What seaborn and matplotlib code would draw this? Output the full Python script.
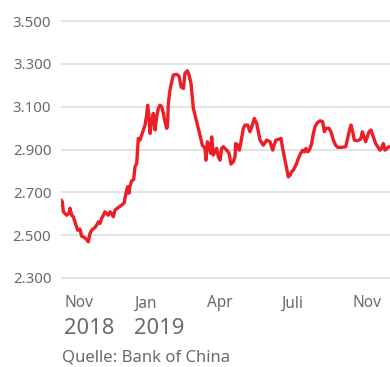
import matplotlib
matplotlib.use("Agg")
import matplotlib.pyplot as plt
import matplotlib.transforms as mtransforms
from matplotlib.ticker import FuncFormatter
import pandas as pd
import seaborn as sns

# ---- data ----
# time index in days from start of series (late Oct 2018)
days = [0, 1.6, 2.8, 6.8, 9.6, 10.8, 12.8, 14.8, 16.8, 20, 22.8, 24.8, 28, 30.8, 32.8,
        34.8, 36.8, 40.8, 42.8, 44.8, 46.8, 48.8, 50.8, 52.8, 54.8, 56.8, 58.8, 60.8,
        62.8, 64.8, 68.8, 72.8, 76, 76.8, 78.8, 80, 81.6, 82.8, 84.8, 87.2, 88.8, 90.8,
        92.8, 94.8, 96.8, 98.8, 100.8, 102.8, 104, 105.6, 106.8, 108.8, 110.8, 112.8,
        114.8, 116.8, 118.8, 120.8, 122.8, 124.8, 126.8, 127.8, 128.8, 130.8, 132.8,
        134.8, 138.8, 141.6, 144, 146.8, 148.8, 151.6, 153.6, 156, 158.8, 162.8, 166.8,
        169.6, 172.8, 174, 175.6, 177.6, 179.6, 180.8, 182.8, 184.8, 186.8, 188.8, 190.8,
        192.8, 194.8, 198.8, 201.6, 204, 206.8, 208.8, 209.6, 212, 214, 215.6, 218.8,
        220.8, 224, 226.8, 229.6, 232, 234.8, 236.8, 238.8, 242.8, 246.8, 250.8, 254,
        255.6, 258, 260.8, 264, 266, 268.8, 270.8, 272.8, 274.8, 276.8, 278.8, 282,
        284.8, 287.6, 290, 292, 294, 296, 298, 300.8, 302.8, 304.8, 307.6, 310.8, 314,
        316, 318, 321.6, 324, 326.8, 329.6, 332, 336.8, 341.6, 344, 346.8, 348, 350,
        352, 354.8, 357.6, 359.6, 361.6, 363.6, 365.6, 367.6, 369.6, 372, 374.8, 377.6,
        380, 382.8, 384.8, 386.8, 388.8, 391.2, 393.6]
values = [2664, 2656, 2609, 2593, 2603, 2626, 2593, 2585, 2562, 2523, 2528, 2495, 2489, 2480, 2469,
          2508, 2523, 2536, 2547, 2562, 2555, 2578, 2593, 2609, 2601, 2593, 2609, 2601,
          2586, 2617, 2629, 2640, 2651, 2673, 2710, 2726, 2696, 2729, 2754, 2760, 2819, 2835,
          2952, 2944, 2967, 2991, 3014, 3061, 3107, 3053, 2975, 3030, 3069, 2991,
          3053, 3092, 3107, 3100, 3069, 3030, 2999, 3005, 3115, 3178, 3216,
          3248, 3251, 3243, 3193, 3185, 3256, 3268, 3248, 3209, 3092, 3030, 2967,
          2920, 2905, 2850, 2936, 2920, 2882, 2959, 2874, 2889, 2905, 2866, 2850,
          2905, 2913, 2897, 2883, 2832, 2843, 2866, 2928, 2920, 2897, 2928, 2999,
          3014, 3014, 2983, 3014, 3045, 3022, 2983, 2944, 2920, 2944, 2936, 2897,
          2920, 2944, 2947, 2952, 2905, 2850, 2812, 2772, 2780, 2796, 2804, 2827,
          2858, 2882, 2897, 2889, 2905, 2889, 2897, 2928, 2975, 3006, 3025, 3034, 3030,
          2983, 2999, 2999, 2983, 2944, 2920, 2910, 2910, 2913, 2952, 2999, 3014, 2983,
          2944, 2941, 2944, 2949, 2983, 2959, 2936, 2959, 2983, 2991, 2959, 2928,
          2913, 2897, 2905, 2928, 2897, 2905, 2913]

month_ticks = [3.6, 87.6, 175.2, 264, 349.2]
month_labels = ["Nov", "Jan", "Apr", "Juli", "Nov"]
year_ticks = [3.6, 87.6]
year_labels = ["2018", "2019"]
y_ticks = [2300, 2500, 2700, 2900, 3100, 3300, 3500]
source = "Quelle: Bank of China"

df = pd.DataFrame({"Tag": days, "Wert": values})

# ---- style ----
sns.set_theme(style="white")
plt.rcParams["font.family"] = ["Noto Sans", "DejaVu Sans"]
text_color = "#6a6a6a"
red = "#ec1f27"

W, H = 390, 367
fig = plt.figure(figsize=(W / 100, H / 100), dpi=100)
ax = fig.add_axes([61 / W, 1 - 280.1 / H, 329 / W, (280.1 - 18.9) / H])

sns.lineplot(data=df, x="Tag", y="Wert", ax=ax, color=red, linewidth=2.4,
             solid_joinstyle="round", solid_capstyle="round", zorder=3)

ax.set_xlim(0, 394.8)
ax.set_ylim(2290, 3510)
ax.set_yticks(y_ticks)
ax.yaxis.set_major_formatter(FuncFormatter(lambda v, p: f"{int(v):,}".replace(",", ".")))
ax.grid(axis="y", color="#dedede", linewidth=1.2)
ax.grid(axis="x", visible=False)
for s in ax.spines.values():
    s.set_visible(False)

ax.set_xticks(month_ticks)
ax.set_xticklabels(month_labels, ha="left")
ax.tick_params(axis="x", length=0, pad=11, labelsize=11.1, labelcolor=text_color)
ax.tick_params(axis="y", length=0, pad=7, labelsize=10.8, labelcolor=text_color)
ax.set_xlabel("")
ax.set_ylabel("")

trans = mtransforms.blended_transform_factory(ax.transData, fig.transFigure)
for xt, lab in zip(year_ticks, year_labels):
    ax.text(xt, 1 - 334.5 / H, lab, transform=trans, ha="left", va="baseline",
            fontsize=15.8, color=text_color)

fig.text(62 / W, 1 - 361 / H, source, ha="left", va="baseline",
         fontsize=12, color=text_color)

fig.savefig("out.png", dpi=100)
